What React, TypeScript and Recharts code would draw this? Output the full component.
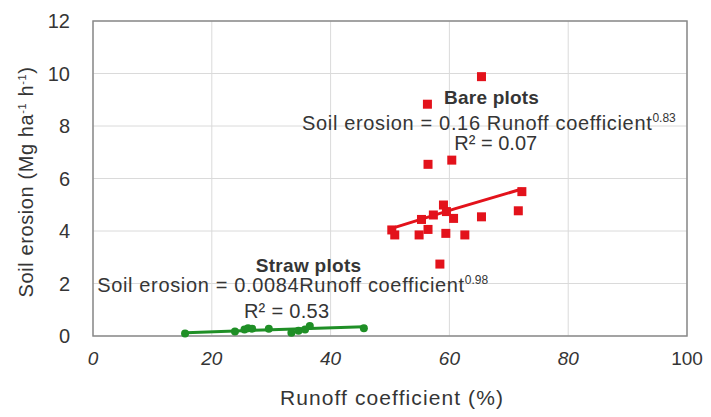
import React from 'react'
import {
  ComposedChart, Scatter, Line, XAxis, YAxis, CartesianGrid,
  ReferenceArea, ReferenceDot,
} from 'recharts'

// runoff coefficient (%) / soil erosion (Mg ha-1 h-1)
const bareX = [65.4, 56.3, 56.4, 60.4, 72.2, 71.6, 65.4, 59.0, 59.5, 60.7, 57.3, 55.3, 50.3, 50.8, 54.9, 56.4, 59.4, 62.6, 58.4]
const bareY = [9.88, 8.83, 6.54, 6.70, 5.50, 4.77, 4.54, 4.99, 4.74, 4.48, 4.61, 4.44, 4.04, 3.85, 3.85, 4.06, 3.91, 3.85, 2.74]
const strawX = [15.5, 23.9, 25.5, 26.1, 26.8, 29.6, 33.4, 34.6, 35.7, 36.5, 45.6]
const strawY = [0.1, 0.17, 0.25, 0.3, 0.28, 0.28, 0.12, 0.2, 0.25, 0.38, 0.3]
// fitted power curves, endpoints
const bareFitX = [50.3, 61, 72.2]
const bareFitY = [4.1, 4.85, 5.6]
const strawFitX = [15.5, 30, 45.6]
const strawFitY = [0.12, 0.24, 0.35]

const xTicks = [0, 20, 40, 60, 80, 100]
const yTicks = [0, 2, 4, 6, 8, 10, 12]

const toPts = (xs: number[], ys: number[]) => xs.map((x, i) => ({ x, y: ys[i] }))
const bare = toPts(bareX, bareY)
const straw = toPts(strawX, strawY)
const bareFit = toPts(bareFitX, bareFitY)
const strawFit = toPts(strawFitX, strawFitY)

const RED = '#e3121b'
const GREEN = '#1f8f26'
const TXT = '#353535'
const FONT = '"Liberation Sans", Arial, sans-serif'

const Square = (p: any) => (
  <rect x={p.cx - 4.5} y={p.cy - 4.5} width={9} height={9} fill={RED} />
)
const Dot = (p: any) => <circle cx={p.cx} cy={p.cy} r={4} fill={GREEN} />

const XTick = (p: any) => {
  const v = p.payload.value
  return (
    <text x={p.x} y={p.y} dy="0.71em" textAnchor="middle" fontSize={19}
      fill={TXT} fontFamily={FONT} fontStyle={v === 100 ? 'normal' : 'italic'}>
      {v}
    </text>
  )
}

// text annotation anchored at a data point
const note = (content: React.ReactNode, anchor: 'start' | 'middle', size: number, bold = false, ls = 0) =>
  (p: any) => (
    <text x={p.cx} y={p.cy} textAnchor={anchor} fontSize={size} fill={TXT}
      fontFamily={FONT} fontWeight={bold ? 700 : 400} letterSpacing={ls}>
      {content}
    </text>
  )

export default function App() {
  return (
    <div style={{ position: 'fixed', left: 0, top: 0, width: 711, height: 417, background: '#fff' }}>
      <ComposedChart width={711} height={417} margin={{ top: 21, right: 24, bottom: 0, left: 0 }}>
        <CartesianGrid stroke="#dadada" strokeWidth={1} />
        <XAxis
          type="number" dataKey="x" domain={[0, 100]} ticks={xTicks} height={81}
          tickLine={false} axisLine={false} tickSize={6} tickMargin={10} tick={<XTick />}
          label={{
            content: () => (
              <text x={392} y={405} textAnchor="middle" fontSize={21} fill={TXT}
                fontFamily={FONT} letterSpacing={1.1}>
                Runoff coefficient (%)
              </text>
            ),
          }}
        />
        <YAxis
          type="number" dataKey="y" domain={[0, 12]} ticks={yTicks} width={93}
          tickLine={false} axisLine={false} tickMargin={17}
          tick={{ fontSize: 20, fill: TXT, fontFamily: FONT }}
          label={{
            content: () => (
              <text transform="translate(33,182) rotate(-90)" textAnchor="middle"
                fontSize={20} fill={TXT} fontFamily={FONT} letterSpacing={0.6}>
                Soil erosion (Mg ha<tspan dy={-7} fontSize={11}>-1</tspan>
                <tspan dy={7}> h</tspan><tspan dy={-7} fontSize={11}>-1</tspan>
                <tspan dy={7}>)</tspan>
              </text>
            ),
          }}
        />
        <ReferenceArea x1={0} x2={100} y1={0} y2={12} fill="none" stroke="#8a8a8a" strokeWidth={1.5} />

        <Line data={bareFit} dataKey="y" type="monotone" stroke={RED} strokeWidth={3}
          dot={false} isAnimationActive={false} />
        <Line data={strawFit} dataKey="y" type="monotone" stroke={GREEN} strokeWidth={3}
          dot={false} isAnimationActive={false} />
        <Scatter data={bare} shape={<Square />} isAnimationActive={false} />
        <Scatter data={straw} shape={<Dot />} isAnimationActive={false} />

        <ReferenceDot x={67.1} y={8.85} shape={note('Bare plots', 'middle', 19, true, 0.2)} />
        <ReferenceDot x={35.2} y={7.84} shape={note(
          <>Soil erosion = 0.16 Runoff coefficient<tspan dy={-8} fontSize={12} letterSpacing={0}>0.83</tspan></>,
          'start', 20, false, 0.65)} />
        <ReferenceDot x={67.8} y={7.1} shape={note('R² = 0.07', 'middle', 20)} />
        <ReferenceDot x={36.3} y={2.42} shape={note('Straw plots', 'middle', 19, true, 0.3)} />
        <ReferenceDot x={0.7} y={1.68} shape={note(
          <>Soil erosion = 0.0084Runoff coefficient<tspan dy={-8} fontSize={12} letterSpacing={0}>0.98</tspan></>,
          'start', 20, false, 0.65)} />
        <ReferenceDot x={32.6} y={0.68} shape={note('R² = 0.53', 'middle', 20, false, 0.3)} />
      </ComposedChart>
    </div>
  )
}
